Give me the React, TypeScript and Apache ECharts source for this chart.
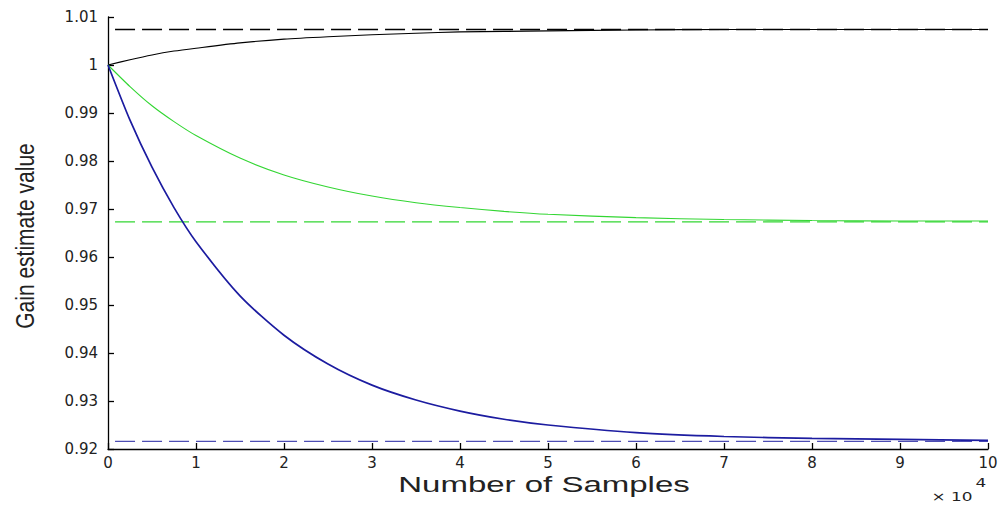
import React, { useEffect, useRef } from "react";
import * as echarts from "echarts";

// Samples (×10^4)
const samples = [0, 0.25, 0.5, 0.75, 1, 1.5, 2, 2.5, 3, 3.5, 4, 4.5, 5, 6, 7, 8, 9, 10];
const blackGain = [1.0, 1.0011, 1.0021, 1.0029, 1.0035, 1.0046, 1.0054, 1.0059, 1.0063, 1.0066, 1.0069, 1.007, 1.0071, 1.0073, 1.0074, 1.0074, 1.0074, 1.0074];
const greenGain = [1.0, 0.9955, 0.9915, 0.9882, 0.9853, 0.9806, 0.9771, 0.9746, 0.9727, 0.9713, 0.9703, 0.9695, 0.9689, 0.9682, 0.9678, 0.9676, 0.9675, 0.9675];
const blueGain = [1.0, 0.9885, 0.9787, 0.9703, 0.9632, 0.9519, 0.9437, 0.9377, 0.9333, 0.9302, 0.9279, 0.9262, 0.925, 0.9234, 0.9226, 0.9222, 0.922, 0.9218];

// True gains (dashed reference lines)
const trueGainX = [0.08, 10];
const blackTrue = [1.0074, 1.0074];
const greenTrue = [0.9673, 0.9673];
const blueTrue = [0.9216, 0.9216];

const xTicks = [0, 1, 2, 3, 4, 5, 6, 7, 8, 9, 10];

const pair = (xs: number[], ys: number[]) => xs.map((x, i) => [x, ys[i]]);

export default function App() {
  const ref = useRef<HTMLDivElement>(null);
  useEffect(() => {
    if (!ref.current) return;
    const chart = echarts.init(ref.current, undefined, { renderer: "svg" });
    const tickFont = { fontFamily: "DejaVu Sans", fontSize: 15, color: "#222" };
    const solid = (name: string, ys: number[], color: string, width: number) => ({
      name,
      type: "line",
      data: pair(samples, ys),
      showSymbol: false,
      smooth: 0.25,
      lineStyle: { color, width },
      z: 3,
    });
    const dashed = (name: string, ys: number[], color: string) => ({
      name,
      type: "line",
      data: pair(trueGainX, ys),
      showSymbol: false,
      lineStyle: { color, width: 1.3, type: [20, 7] },
      z: 2,
    });
    chart.setOption({
      animation: false,
      backgroundColor: "#fff",
      grid: { left: 108, right: 14, top: 17, bottom: 58, containLabel: false },
      xAxis: {
        type: "value",
        min: 0,
        max: 10,
        interval: 1,
        axisLine: { show: true, onZero: false, lineStyle: { color: "#000", width: 1.3 } },
        axisTick: { show: true, inside: true, length: 6, lineStyle: { color: "#000", width: 1.3 } },
        splitLine: { show: false },
        axisLabel: {
          ...tickFont,
          margin: 6,
          formatter: (v: number) => (xTicks.includes(Math.round(v)) ? String(Math.round(v)) : ""),
        },
      },
      yAxis: {
        type: "value",
        min: 0.92,
        max: 1.01,
        interval: 0.01,
        axisLine: { show: true, onZero: false, lineStyle: { color: "#000", width: 1.3 } },
        axisTick: { show: true, inside: true, length: 6, lineStyle: { color: "#000", width: 1.3 } },
        splitLine: { show: false },
        axisLabel: {
          ...tickFont,
          margin: 10,
          formatter: (v: number) => String(Math.round(v * 100) / 100),
        },
      },
      series: [
        dashed("black true", blackTrue, "#000"),
        dashed("green true", greenTrue, "#33d633"),
        dashed("blue true", blueTrue, "#4d4db3"),
        solid("black", blackGain, "#000", 1.1),
        solid("green", greenGain, "#33d633", 1.1),
        solid("blue", blueGain, "#1c1ca0", 1.7),
      ],
      graphic: [
        {
          type: "text",
          x: 544,
          y: 485,
          scaleX: 1.5,
          style: {
            text: "Number of Samples",
            font: '22px "Liberation Sans"',
            fill: "#222",
            textAlign: "center",
            textVerticalAlign: "middle",
          },
        },
        {
          type: "text",
          x: 25,
          y: 236,
          rotation: Math.PI / 2,
          scaleX: 1.0,
          scaleY: 1.25,
          style: {
            text: "Gain estimate value",
            font: '21px "Liberation Sans"',
            fill: "#222",
            textAlign: "center",
            textVerticalAlign: "middle",
          },
        },
        {
          type: "text",
          x: 952,
          y: 497,
          scaleX: 1.3,
          style: {
            text: "× 10",
            font: '13px "DejaVu Sans"',
            fill: "#222",
            textAlign: "center",
            textVerticalAlign: "middle",
          },
        },
        {
          type: "text",
          x: 981,
          y: 483,
          scaleX: 1.3,
          style: {
            text: "4",
            font: '13px "DejaVu Sans"',
            fill: "#222",
            textAlign: "center",
            textVerticalAlign: "middle",
          },
        },
      ],
    });
    return () => chart.dispose();
  }, []);
  return (
    <div
      ref={ref}
      style={{ position: "fixed", left: 0, top: 0, width: 1002, height: 507, background: "#fff" }}
    />
  );
}
